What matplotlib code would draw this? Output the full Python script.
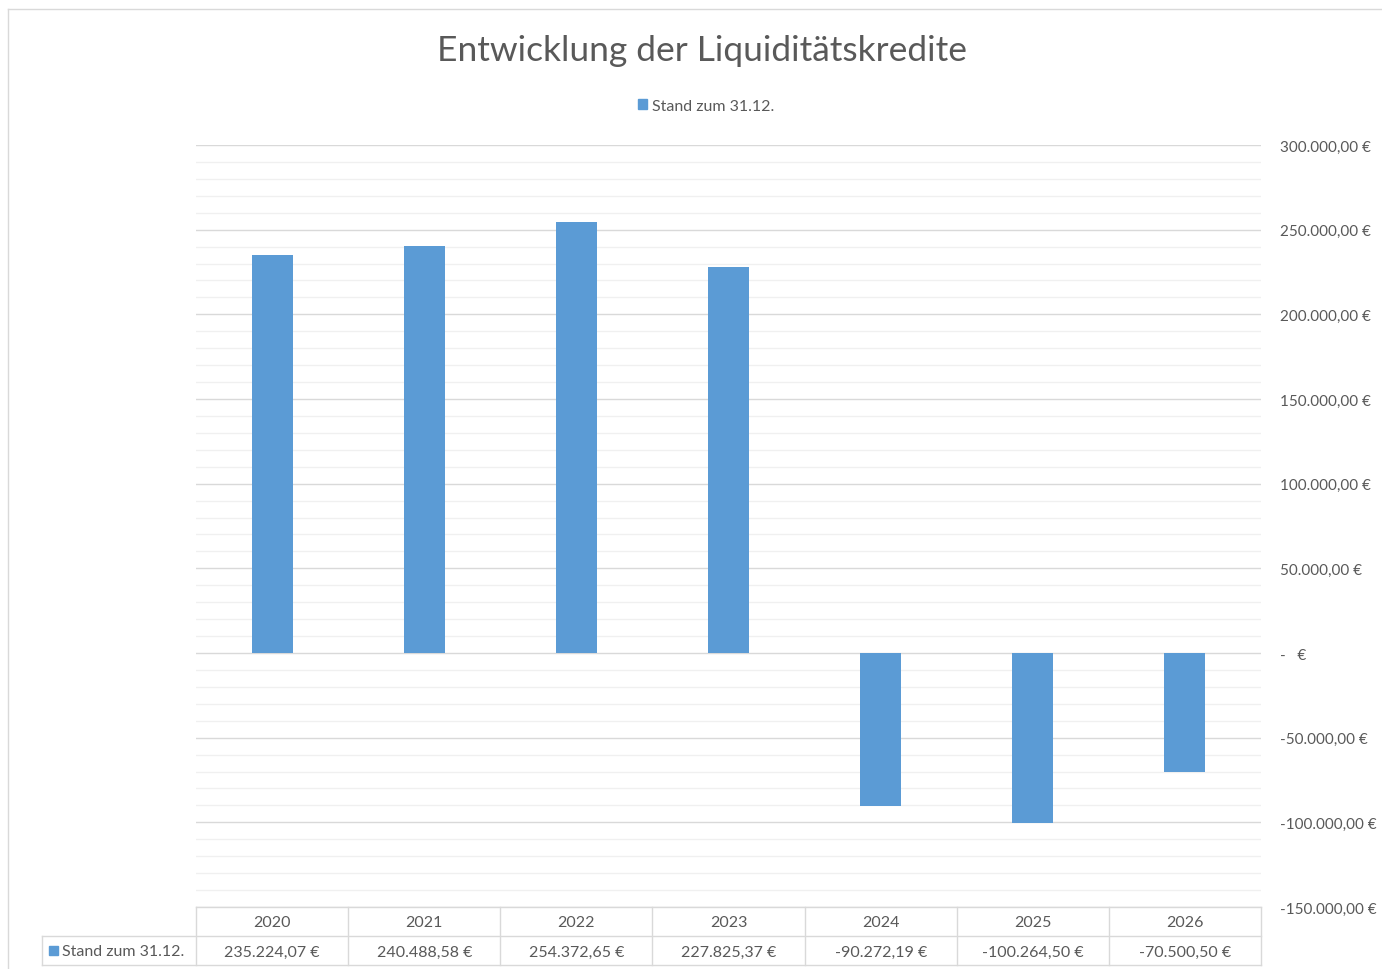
import matplotlib.pyplot as plt
import matplotlib.transforms as mtransforms
from matplotlib.patches import Patch, Rectangle
from matplotlib.lines import Line2D
import numpy as np

plt.rcParams['font.family'] = ['Lato', 'DejaVu Sans']

years = ['2020', '2021', '2022', '2023', '2024', '2025', '2026']
stand = [235224.07, 240488.58, 254372.65, 227825.37, -90272.19, -100264.50, -70500.50]
series_name = 'Stand zum 31.12.'
title = 'Entwicklung der Liquiditätskredite'

bar_color = '#5b9bd5'
text_color = '#595959'
grid_major = '#d9d9d9'
grid_minor = '#f0f0f0'

W, H = 1382, 970


def euro(v, decimals=2):
    if v == 0:
        return '-   €'
    s = f'{abs(v):,.{decimals}f}'.replace(',', 'X').replace('.', ',').replace('X', '.')
    return ('-' if v < 0 else '') + s + ' €'


fig = plt.figure(figsize=(W / 100, H / 100), dpi=100)

# outer chart border
fig.add_artist(Line2D([8 / W, 1], [1 - 10 / H, 1 - 10 / H], color=grid_major, lw=1))
fig.add_artist(Line2D([8 / W, 8 / W], [0, 1 - 10 / H], color=grid_major, lw=1))

ax = fig.add_axes([196 / W, 1 - 908 / H, (1261 - 196) / W, (908 - 146) / H])
x = np.arange(len(years))
ax.bar(x, stand, width=0.27, color=bar_color, zorder=3)

ax.set_xlim(-0.5, len(years) - 0.5)
ax.set_ylim(-150000, 300000)
ax.set_yticks(np.arange(-150000, 300001, 50000))
ax.set_yticks(np.arange(-150000, 300001, 10000), minor=True)
ax.yaxis.grid(True, which='major', color=grid_major, lw=1, zorder=1)
ax.yaxis.grid(True, which='minor', color=grid_minor, lw=1, zorder=0)
ax.yaxis.tick_right()
ax.set_yticklabels([euro(v) for v in ax.get_yticks()])
ax.tick_params(axis='y', which='both', length=0, pad=14, labelsize=11, labelcolor=text_color)
ax.set_xticks([])
for s in ax.spines.values():
    s.set_visible(False)

fig.text(702 / W, 1 - 51 / H, title, ha='center', va='center', fontsize=25.5, color=text_color)
fig.legend(handles=[Patch(color=bar_color, label=series_name)], loc='center',
           bbox_to_anchor=(706 / W, 1 - 107 / H), frameon=False, fontsize=11.5,
           handlelength=0.6, handleheight=0.6, handletextpad=0.3, labelcolor=text_color)

# data table below the axes
tr = mtransforms.blended_transform_factory(ax.transData, fig.transFigure)
ftr = fig.transFigure
y_top, y_mid, y_bot = 1 - 908 / H, 1 - 937 / H, 1 - 966 / H
lx = 42 / W
line_kw = dict(color=grid_major, lw=1, clip_on=False)
fig.add_artist(Line2D([196 / W, 1261 / W], [y_top, y_top], **line_kw))
fig.add_artist(Line2D([lx, 1261 / W], [y_mid, y_mid], **line_kw))
fig.add_artist(Line2D([lx, 1261 / W], [y_bot, y_bot], **line_kw))
fig.add_artist(Line2D([lx, lx], [y_mid, y_bot], **line_kw))
for b in np.arange(len(years) + 1) - 0.5:
    fig.add_artist(Line2D([b, b], [y_top, y_bot], transform=tr, **line_kw))
for i, (yr, v) in enumerate(zip(years, stand)):
    fig.text(i, (y_top + y_mid) / 2 - 0.001, yr, transform=tr, ha='center', va='center',
             fontsize=11.5, color=text_color)
    fig.text(i, (y_mid + y_bot) / 2 - 0.001, euro(v), transform=tr, ha='center', va='center',
             fontsize=11.5, color=text_color)
fig.add_artist(Rectangle((49 / W, 1 - 956 / H), 9 / W, 9 / H, color=bar_color, transform=ftr))
fig.text(62 / W, (y_mid + y_bot) / 2 - 0.001, series_name, ha='left', va='center',
         fontsize=11.5, color=text_color)

fig.savefig('out.png', dpi=100)
